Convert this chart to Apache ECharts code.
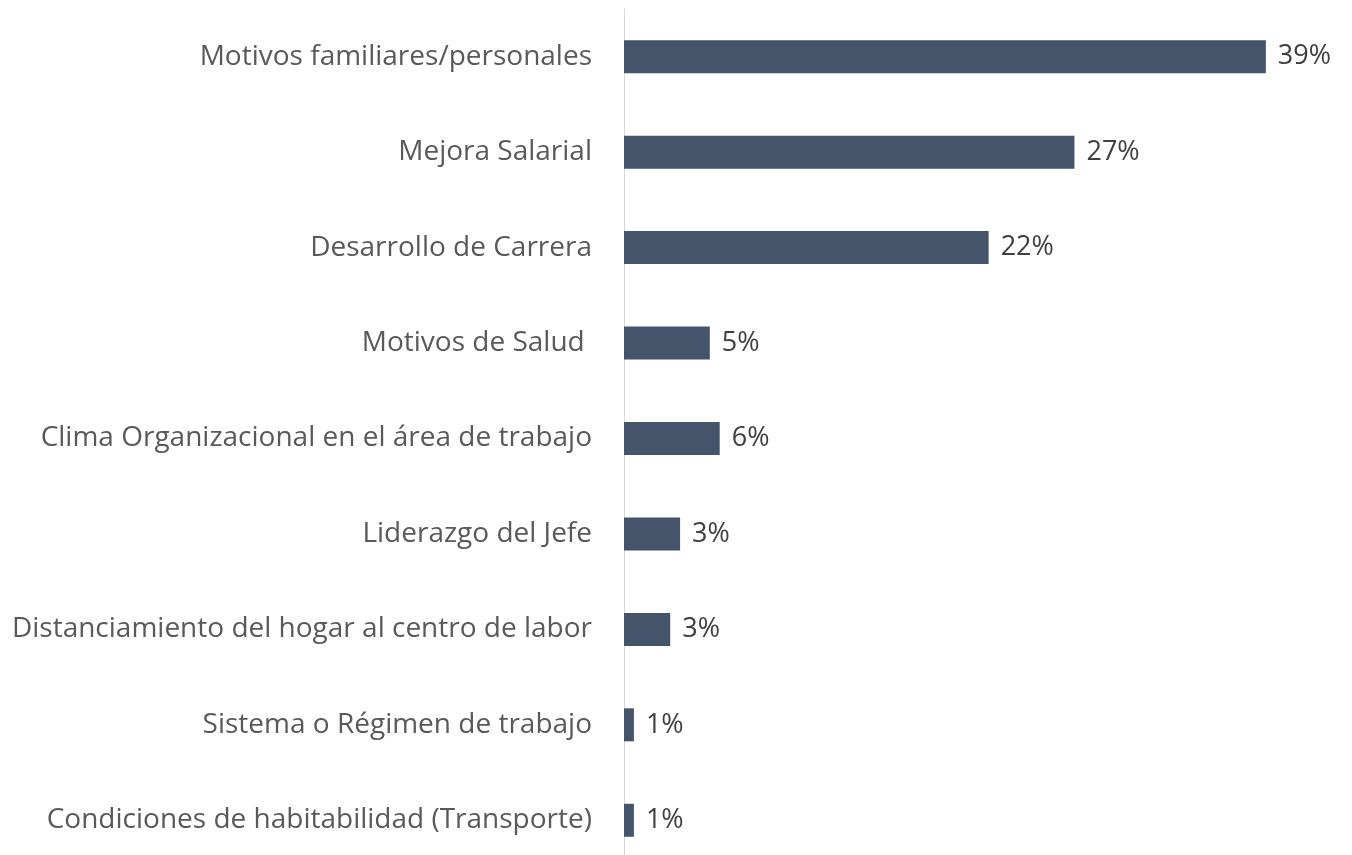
<!DOCTYPE html>
<html>
<head>
<meta charset="utf-8">
<script src="https://cdn.jsdelivr.net/npm/echarts@6/dist/echarts.min.js"></script>
<style>
  html, body { margin: 0; padding: 0; background: #fff; overflow: hidden; }
  #chart { width: 1352px; height: 868px; }
</style>
</head>
<body>
<div id="chart"></div>
<script>
// categories top to bottom
const categories = [
  'Motivos familiares/personales',
  'Mejora Salarial',
  'Desarrollo de Carrera',
  'Motivos de Salud ',
  'Clima Organizacional en el área de trabajo',
  'Liderazgo del Jefe',
  'Distanciamiento del hogar al centro de labor',
  'Sistema o Régimen de trabajo',
  'Condiciones de habitabilidad (Transporte)'
]
// percent values
const values = [38.9, 27.3, 22.1, 5.2, 5.8, 3.4, 2.8, 0.6, 0.6]

const chart = echarts.init(document.getElementById('chart'))
chart.setOption({
  animation: false,
  grid: {
    left: 624,
    right: 68,
    top: 9,
    bottom: 0
  },
  xAxis: {
    type: 'value',
    min: 0,
    max: 40,
    show: false
  },
  yAxis: {
    type: 'category',
    inverse: true,
    data: categories,
    axisLine: { show: true, lineStyle: { color: '#d9d9d9', width: 1 } },
    axisTick: { show: false },
    axisLabel: {
      margin: 32,
      fontFamily: 'Open Sans',
      fontSize: 28,
      color: '#595959'
    }
  },
  series: [{
    type: 'bar',
    data: values,
    barWidth: 33,
    itemStyle: { color: '#44546A' },
    label: {
      show: true,
      position: 'right',
      distance: 12,
      fontFamily: 'Open Sans',
      fontSize: 27,
      color: '#404040',
      formatter: p => Math.round(p.value) + '%'
    }
  }]
})
</script>
</body>
</html>
